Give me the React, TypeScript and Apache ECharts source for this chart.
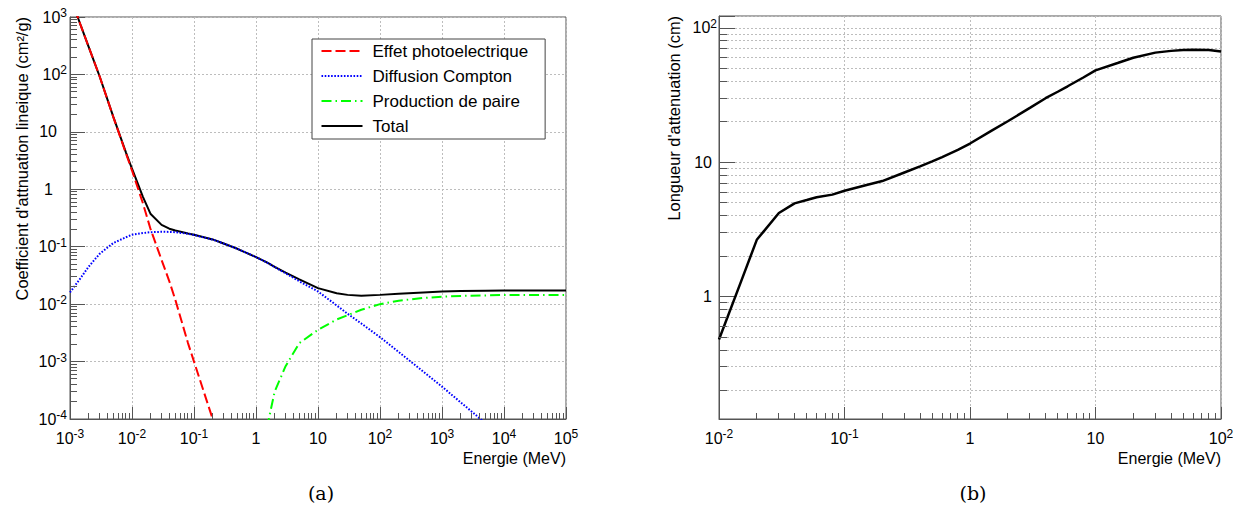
import React, { useEffect, useRef } from "react";
import * as echarts from "echarts";

// ---------- Data (a): attenuation coefficients (cm2/g) vs energy (MeV)
const energyA = [0.001, 0.0015, 0.002, 0.003, 0.005, 0.008, 0.01, 0.015, 0.02, 0.03, 0.04, 0.05, 0.08, 0.1, 0.2, 0.3, 0.5, 1, 1.5, 2, 3, 5, 10, 20, 30, 50, 100, 200, 500, 1000, 2000, 5000, 10000, 100000];
const photoelectric = [2340, 698, 302, 93, 18.1, 4.2, 2.12, 0.57, 0.2, 0.0588, 0.025, 0.0119, 0.0021, 0.001, 0.0001, 0.000026, null, null, null, null, null, null, null, null, null, null, null, null, null, null, null, null, null, null];
const compton = [0.016, 0.029, 0.045, 0.075, 0.116, 0.146, 0.162, 0.173, 0.179, 0.182, 0.181, 0.179, 0.168, 0.16, 0.133, 0.114, 0.092, 0.066, 0.053, 0.0442, 0.0345, 0.025, 0.0166, 0.0095, 0.0068, 0.0046, 0.00266, 0.00147, 0.00067, 0.000366, 0.000195, 0.000085, 0.000045, null];
const pairProduction = [null, null, null, null, null, null, null, null, null, null, null, null, null, null, null, null, null, null, 0.00007, 0.0003, 0.00083, 0.0021, 0.00357, 0.0054, 0.0064, 0.008, 0.01, 0.0115, 0.0128, 0.0135, 0.0139, 0.0142, 0.0144, 0.0145];
const totalA = [2340, 698, 302, 93, 18.2, 4.35, 2.28, 0.74, 0.37, 0.24, 0.206, 0.191, 0.17, 0.161, 0.134, 0.114, 0.092, 0.066, 0.0535, 0.0445, 0.0355, 0.027, 0.019, 0.0155, 0.0145, 0.014, 0.0145, 0.0152, 0.016, 0.0166, 0.0169, 0.0171, 0.0172, 0.0172];

// ---------- Data (b): attenuation length (cm) vs energy (MeV)
const energyB = [0.01, 0.015, 0.02, 0.03, 0.04, 0.05, 0.06, 0.08, 0.1, 0.15, 0.2, 0.3, 0.4, 0.5, 0.6, 0.8, 1, 1.5, 2, 3, 4, 5, 6, 8, 10, 15, 20, 30, 40, 50, 60, 80, 100];
const lengthB = [0.48, 1.3, 2.65, 4.2, 4.95, 5.24, 5.5, 5.75, 6.15, 6.78, 7.25, 8.4, 9.33, 10.17, 10.95, 12.4, 13.8, 17.3, 20.2, 25.4, 30, 33.5, 36.8, 42.8, 48.3, 54.8, 60, 65.5, 67.5, 68.6, 68.8, 68.5, 66.7];

const legendNames = ["Effet photoelectrique", "Diffusion Compton", "Production de paire", "Total"];
const xTitle = "Energie (MeV)";
const yTitleA = "Coefficient d'attnuation lineique (cm²/g)";
const yTitleB = "Longueur d'attenuation (cm)";
const captions = ["(a)", "(b)"];

// axis ranges
const xRangeA = [1e-3, 1e5];
const yRangeA = [1e-4, 1e3];
const xRangeB = [1e-2, 1e2];
const yRangeB = [0.123, 122.7];

const FONT = "Liberation Sans";
const GRID_COLOR = "#bdbdbd";
const AXIS_COLOR = "#555";

function minorTicks(lo: number, hi: number): number[] {
  const out: number[] = [];
  for (let e = Math.floor(Math.log10(lo)); e <= Math.ceil(Math.log10(hi)); e++) {
    for (let m = 2; m <= 9; m++) {
      const v = m * Math.pow(10, e);
      if (v > lo * 1.0001 && v < hi * 0.9999) out.push(v);
    }
  }
  return out;
}

function powLabel(v: number): string {
  const e = Math.log10(v);
  const r = Math.round(e);
  if (Math.abs(e - r) > 1e-6) return "";
  if (r === 0) return "{p1|1}";
  if (r === 1) return "{p2|10}";
  return "{b|10}{s|" + String(r) + "}";
}

function rich(pad1: number, pad2: number) {
  const base = { fontSize: 16, fontFamily: FONT, color: "#000", lineHeight: 20 };
  return {
    b: base,
    s: { fontSize: 12, fontFamily: FONT, color: "#000", lineHeight: 12, verticalAlign: "top" },
    p1: { ...base, padding: [0, pad1, 0, 0] },
    p2: { ...base, padding: [0, pad2, 0, 0] },
  };
}

function pairs(xs: number[], ys: (number | null)[]) {
  return xs.map((x, i) => [x, ys[i] == null ? "-" : ys[i]]);
}

function crisp(v: number) {
  return Math.round(v - 0.5) + 0.5;
}

// short tick marks drawn through the axes' scales
function tickSeries(axisIdx: number, values: number[], dir: "x" | "y", anchor: number, len: number) {
  return {
    type: "custom",
    xAxisIndex: axisIdx,
    yAxisIndex: axisIdx,
    silent: true,
    clip: false,
    z: 6,
    data: values.map((v) => (dir === "x" ? [v, anchor] : [anchor, v])),
    renderItem: (params: any, api: any) => {
      const p = api.coord([api.value(0), api.value(1)]);
      if (dir === "x") {
        const x = crisp(p[0]);
        return { type: "line", shape: { x1: x, y1: p[1], x2: x, y2: p[1] - len }, style: { stroke: AXIS_COLOR, lineWidth: 1 } };
      }
      const y = crisp(p[1]);
      return { type: "line", shape: { x1: p[0], y1: y, x2: p[0] + len, y2: y }, style: { stroke: AXIS_COLOR, lineWidth: 1 } };
    },
  };
}

// horizontal minor grid lines (plot b)
function hGridSeries(axisIdx: number, values: number[], anchorX: number) {
  return {
    type: "custom",
    xAxisIndex: axisIdx,
    yAxisIndex: axisIdx,
    silent: true,
    z: 1,
    data: values.map((v) => [anchorX, v]),
    renderItem: (params: any, api: any) => {
      const p = api.coord([api.value(0), api.value(1)]);
      const cs = params.coordSys;
      const y = crisp(p[1]);
      return {
        type: "line",
        shape: { x1: cs.x, y1: y, x2: cs.x + cs.width, y2: y },
        style: { stroke: GRID_COLOR, lineWidth: 1, lineDash: [2, 2] },
      };
    },
  };
}

function logAxis(gridIndex: number, range: number[], tickLen: number, extra: any) {
  return {
    type: "log",
    logBase: 10,
    gridIndex,
    min: range[0],
    max: range[1],
    axisLine: { show: true, lineStyle: { color: AXIS_COLOR, width: 1 } },
    axisTick: { show: true, inside: true, length: tickLen, lineStyle: { color: AXIS_COLOR } },
    splitLine: { show: true, lineStyle: { color: GRID_COLOR, type: [2, 2], width: 1 } },
    minorTick: { show: false },
    minorSplitLine: { show: false },
    nameMoveOverlap: false,
    ...extra,
  };
}

const nameStyle = { fontSize: 16, fontFamily: FONT, color: "#000" };

// an axis that only carries the rotated title, set off to the left of the plot
function titleAxis(gridIndex: number, range: number[], name: string, offset: number) {
  return {
    type: "log",
    logBase: 10,
    gridIndex,
    min: range[0],
    max: range[1],
    position: "left",
    offset,
    axisLine: { show: false },
    axisTick: { show: false },
    axisLabel: { show: false },
    splitLine: { show: false },
    name,
    nameLocation: "end",
    nameGap: 0,
    nameRotate: 90,
    nameMoveOverlap: false,
    nameTextStyle: { ...nameStyle, fontSize: 16.4, align: "right", verticalAlign: "middle" },
  };
}

const option: any = {
  animation: false,
  backgroundColor: "#fff",
  grid: [
    { left: 70, top: 17, width: 496, height: 402, show: true, borderColor: AXIS_COLOR, borderWidth: 1, backgroundColor: "transparent", outerBoundsMode: "none", containLabel: false },
    { left: 719, top: 16, width: 502, height: 403, show: true, borderColor: AXIS_COLOR, borderWidth: 1, backgroundColor: "transparent", outerBoundsMode: "none", containLabel: false },
  ],
  xAxis: [
    logAxis(0, xRangeA, 12, {
      axisLabel: { formatter: powLabel, margin: 9, rich: rich(0, 0) },
      name: xTitle,
      nameLocation: "end",
      nameGap: 0,
      nameTextStyle: { ...nameStyle, align: "right", verticalAlign: "top", padding: [31, 0, 0, 0] },
    }),
    logAxis(1, xRangeB, 12, {
      axisLabel: { formatter: powLabel, margin: 9, rich: rich(0, 0) },
      name: xTitle,
      nameLocation: "end",
      nameGap: 0,
      nameTextStyle: { ...nameStyle, align: "right", verticalAlign: "top", padding: [31, 0, 0, 0] },
    }),
  ],
  yAxis: [
    logAxis(0, yRangeA, 15, {
      axisLabel: { formatter: powLabel, margin: 3, rich: rich(14, 10) },
    }),
    logAxis(1, yRangeB, 16, {
      axisLabel: { formatter: powLabel, margin: 2, rich: rich(5, 5) },
    }),
    titleAxis(0, yRangeA, yTitleA, 48),
    titleAxis(1, yRangeB, yTitleB, 45),
  ],
  legend: {
    data: legendNames,
    orient: "vertical",
    left: 312,
    top: 39,
    itemWidth: 41,
    itemHeight: 17,
    itemGap: 8,
    padding: [3.5, 17, 4.5, 8.5],
    backgroundColor: "#fff",
    borderColor: "#444",
    borderWidth: 1,
    borderRadius: 0,
    selectedMode: false,
    itemStyle: { opacity: 0, borderWidth: 0 },
    textStyle: { fontSize: 17, fontFamily: FONT, color: "#000", padding: [0, 0, 0, 5] },
    z: 20,
  },
  graphic: [
    { type: "text", x: 321, y: 493, style: { text: captions[0], fontSize: 19, fontFamily: "DejaVu Serif", fill: "#000", align: "center", verticalAlign: "middle" } },
    { type: "text", x: 973, y: 493, style: { text: captions[1], fontSize: 19, fontFamily: "DejaVu Serif", fill: "#000", align: "center", verticalAlign: "middle" } },
  ],
  series: [
    {
      type: "line",
      name: legendNames[3],
      xAxisIndex: 0,
      yAxisIndex: 0,
      data: pairs(energyA, totalA),
      symbol: "none",
      showSymbol: false,
      clip: true,
      lineStyle: { color: "#000", width: 2 },
      itemStyle: { color: "#000" },
      z: 3,
    },
    {
      type: "line",
      name: legendNames[0],
      xAxisIndex: 0,
      yAxisIndex: 0,
      data: pairs(energyA, photoelectric),
      symbol: "none",
      showSymbol: false,
      clip: true,
      lineStyle: { color: "#ff0000", width: 2, type: [10, 4] },
      itemStyle: { color: "#ff0000" },
      z: 4,
    },
    {
      type: "line",
      name: legendNames[1],
      xAxisIndex: 0,
      yAxisIndex: 0,
      data: pairs(energyA, compton),
      symbol: "none",
      showSymbol: false,
      clip: true,
      lineStyle: { color: "#0000ff", width: 2, type: [1.6, 1.6] },
      itemStyle: { color: "#0000ff" },
      z: 4,
    },
    {
      type: "line",
      name: legendNames[2],
      xAxisIndex: 0,
      yAxisIndex: 0,
      data: pairs(energyA, pairProduction),
      symbol: "none",
      showSymbol: false,
      clip: true,
      lineStyle: { color: "#00ff00", width: 2, type: [10, 4, 1.5, 4] },
      itemStyle: { color: "#00ff00" },
      z: 4,
    },
    {
      type: "line",
      name: "Longueur",
      xAxisIndex: 1,
      yAxisIndex: 1,
      data: pairs(energyB, lengthB),
      symbol: "none",
      showSymbol: false,
      clip: true,
      lineStyle: { color: "#000", width: 2.5 },
      itemStyle: { color: "#000" },
      z: 4,
    },
    tickSeries(0, minorTicks(xRangeA[0], xRangeA[1]), "x", yRangeA[0], 6),
    tickSeries(0, minorTicks(yRangeA[0], yRangeA[1]), "y", xRangeA[0], 7),
    tickSeries(1, minorTicks(xRangeB[0], xRangeB[1]), "x", yRangeB[0], 6),
    tickSeries(1, minorTicks(yRangeB[0], yRangeB[1]), "y", xRangeB[0], 8),
    hGridSeries(1, minorTicks(yRangeB[0], yRangeB[1]), xRangeB[0]),
  ],
};

export default function App() {
  const ref = useRef<HTMLDivElement>(null);
  useEffect(() => {
    const chart = echarts.init(ref.current as HTMLDivElement, null, { renderer: "svg" });
    chart.setOption(option);
    return () => chart.dispose();
  }, []);
  return <div ref={ref} style={{ position: "absolute", left: 0, top: 0, width: 1233, height: 506 }} />;
}
